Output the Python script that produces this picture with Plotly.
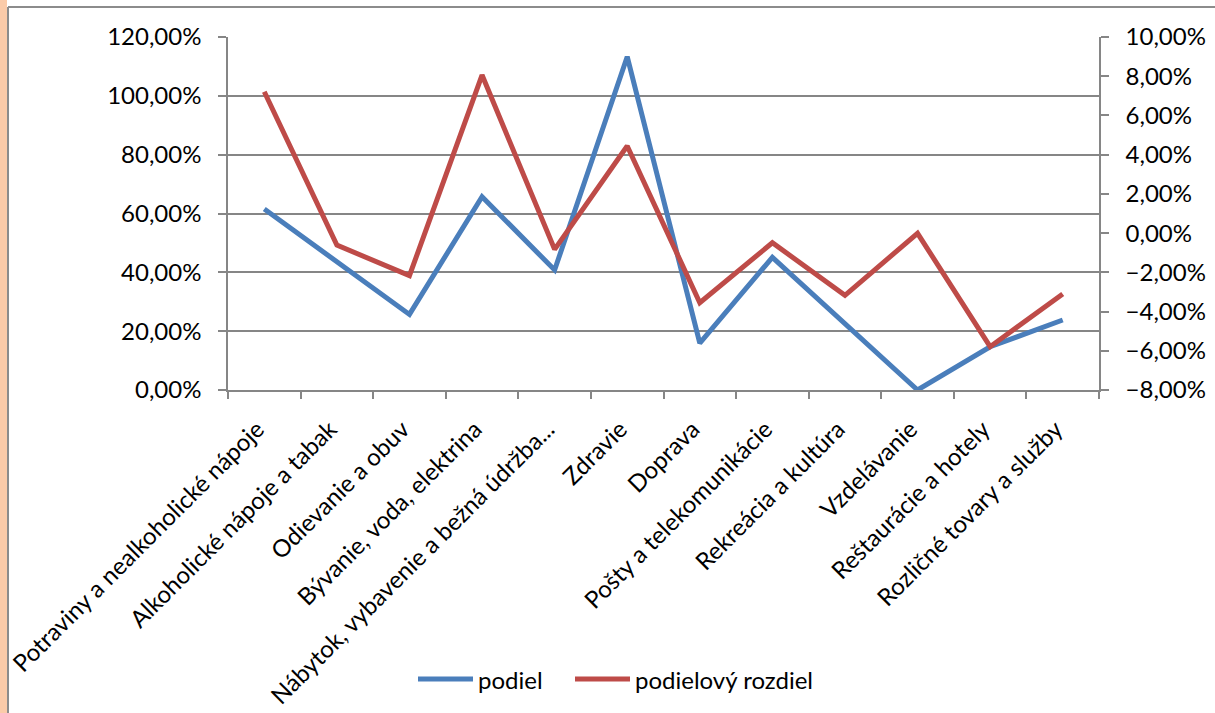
import plotly.graph_objects as go

kategorie = ["Potraviny a nealkoholické nápoje", "Alkoholické nápoje a tabak",
             "Odievanie a obuv", "Bývanie, voda, elektrina",
             "Nábytok, vybavenie a bežná údržba...", "Zdravie", "Doprava",
             "Pošty a telekomunikácie", "Rekreácia a kultúra", "Vzdelávanie",
             "Reštaurácie a hotely", "Rozličné tovary a služby"]
podiel = [0.615, 0.436, 0.257, 0.657, 0.408, 1.133, 0.159, 0.451, 0.224, 0.0, 0.147, 0.238]
podielovy_rozdiel = [0.0721, -0.0061, -0.0217, 0.0806, -0.0083, 0.0444, -0.0355,
                     -0.0049, -0.0317, -0.0001, -0.0579, -0.0310]
nazvy = ["podiel", "podielový rozdiel"]
farby = ["#4A7EBB", "#BE4B48"]

W, H = 1215, 713
L, R, T, B = 228, 1099, 37, 390
grey = "#868686"


def px(x):
    return (x - L) / (R - L)


def py(y):
    return (B - y) / (B - T)


fig = go.Figure()
fig.add_trace(go.Scatter(x=kategorie, y=podiel, name=nazvy[0], mode="lines",
                         line=dict(color=farby[0], width=5)))
fig.add_trace(go.Scatter(x=kategorie, y=podielovy_rozdiel, name=nazvy[1],
                         mode="lines", yaxis="y2",
                         line=dict(color=farby[1], width=5)))

# okraj grafu a pruh pozadia vlavo
fig.add_shape(type="rect", xref="paper", yref="paper", x0=px(0), x1=px(7),
              y0=py(0), y1=py(H), fillcolor="#FBCBA9", line_width=0, layer="below")
fig.add_shape(type="line", xref="paper", yref="paper", x0=px(8), x1=px(8),
              y0=py(7), y1=py(H), line=dict(color="#8C8C8C", width=2))
fig.add_shape(type="line", xref="paper", yref="paper", x0=px(8), x1=px(W),
              y0=py(7), y1=py(7), line=dict(color="#8C8C8C", width=2))

font = dict(family="Lato, 'Open Sans', sans-serif", size=24, color="black")

# legenda
leg_y = py(679)
for x0, nazov, farba in zip([418, 575], nazvy, farby):
    fig.add_shape(type="line", xref="paper", yref="paper", x0=px(x0), x1=px(x0 + 55),
                  y0=leg_y, y1=leg_y, line=dict(color=farba, width=5))
    fig.add_annotation(xref="paper", yref="paper", x=px(x0 + 58), y=leg_y,
                       text=nazov, showarrow=False, xanchor="left", yanchor="middle",
                       font=font)

fig.update_layout(
    width=W, height=H, autosize=False,
    margin=dict(l=L, r=W - R, t=T, b=H - B),
    paper_bgcolor="white", plot_bgcolor="white",
    separators=", ",
    font=font,
    showlegend=False,
    xaxis=dict(type="category", range=[-0.5, 11.5], tickson="boundaries",
               ticks="outside", ticklen=7, tickcolor=grey, tickwidth=1.5,
               showline=True, linecolor=grey, linewidth=1.5, showgrid=False,
               tickangle=-45, tickfont=font, ticklabelshift=-7,
               ticklabelstandoff=14, automargin=False),
    yaxis=dict(range=[0, 1.2], dtick=0.2, tickformat=".2%", ticks="outside",
               ticklen=8, tickcolor=grey, tickwidth=1.5, showline=True,
               linecolor=grey, linewidth=1.5, showgrid=True, gridcolor=grey,
               gridwidth=1.5, zeroline=False, tickfont=font, ticklabelstandoff=12,
               automargin=False),
    yaxis2=dict(range=[-0.08, 0.10], dtick=0.02, tickformat=".2%", overlaying="y",
                side="right", ticks="outside", ticklen=8, tickcolor=grey,
                tickwidth=1.5, showline=True, linecolor=grey, linewidth=1.5,
                showgrid=False, zeroline=False, tickfont=font, ticklabelstandoff=12,
                automargin=False),
)

fig.write_html("out.html", config={"displayModeBar": False},
               post_script="document.body.style.margin='0';")
